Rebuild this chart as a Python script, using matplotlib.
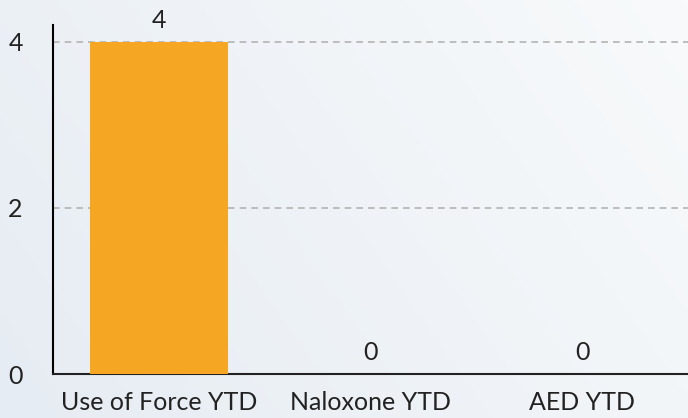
import numpy as np
import matplotlib
matplotlib.use("Agg")
import matplotlib.pyplot as plt
from matplotlib.colors import LinearSegmentedColormap

categories = ["Use of Force YTD", "Naloxone YTD", "AED YTD"]
values = [4, 0, 0]
yticks = [0, 2, 4]

plt.rcParams["font.family"] = ["Lato", "DejaVu Sans"]

fig = plt.figure(figsize=(6.88, 4.18), dpi=100)

# soft diagonal background gradient
bg = fig.add_axes([0, 0, 1, 1], zorder=-10)
xx, yy = np.meshgrid(np.linspace(0, 1, 200), np.linspace(0, 1, 120))
grad = 0.7 * xx + 0.3 * yy
cmap = LinearSegmentedColormap.from_list("bg", ["#e6ecf3", "#f8fafb"])
bg.imshow(grad, cmap=cmap, aspect="auto", extent=[0, 1, 0, 1], origin="lower")
bg.axis("off")

ax = fig.add_axes([53 / 688, 44 / 418, 635 / 688, 349 / 418])
ax.patch.set_alpha(0)
x = np.arange(len(categories))
bars = ax.bar(x, values, width=0.65, color="#f5a623", zorder=3)
for xi, v in zip(x, values):
    ax.annotate(str(v), (xi, v), xytext=(0, 7), textcoords="offset points",
                ha="center", va="bottom", fontsize=18, color="#222222")

ax.set_xlim(-0.5, len(categories) - 0.5)
ax.set_ylim(0, 4.2)
ax.set_yticks(yticks)
ax.set_xticks(x)
ax.set_xticklabels(categories, fontsize=18, color="#222222")
ax.tick_params(axis="y", labelsize=18, length=0, pad=27, labelcolor="#222222")
ax.tick_params(axis="x", length=0, pad=12)
for t in ax.get_yticklabels():
    t.set_horizontalalignment("center")
for yv in yticks[1:]:
    ax.axhline(yv, color="#b3b3b3", linestyle=(0, (4, 3)), linewidth=1.2, zorder=1)
for s in ["top", "right"]:
    ax.spines[s].set_visible(False)
ax.spines["left"].set_color("black")
ax.spines["bottom"].set_color("#222222")
ax.spines["left"].set_linewidth(1.5)
ax.spines["bottom"].set_linewidth(1.5)

fig.savefig("out.png", dpi=100)
